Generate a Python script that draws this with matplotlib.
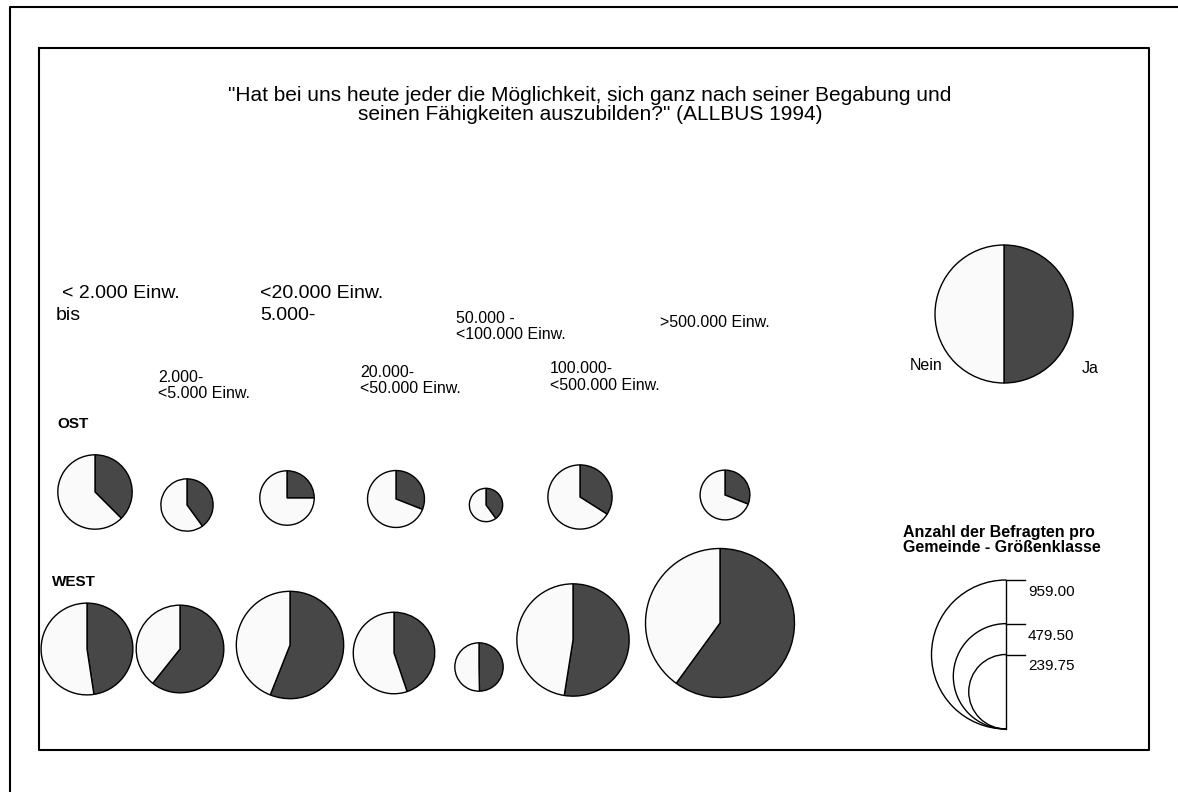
import numpy as np
import matplotlib
matplotlib.use("Agg")
import matplotlib.pyplot as plt
from matplotlib.patches import Arc

plt.rcParams['font.family'] = ['Liberation Sans', 'DejaVu Sans']

# ALLBUS 1994: share answering "Ja" and number of respondents per size class
classes = ["< 2.000", "2.000-<5.000", "5.000-<20.000", "20.000-<50.000",
           "50.000-<100.000", "100.000-<500.000", ">500.000"]
ost_n = [239, 118, 128, 140, 48, 178, 107]
ost_ja = [0.375, 0.40, 0.25, 0.31, 0.40, 0.34, 0.31]
west_n = [364, 332, 498, 287, 101, 545, 959]
west_ja = [0.476, 0.607, 0.56, 0.448, 0.497, 0.525, 0.60]
legend_vals = [959.00, 479.50, 239.75]
legend_labels = ["959.00", "479.50", "239.75"]

DARK = "#474747"
LIGHT = "#fafafa"
R_MAX = 74.5  # radius (px) for the largest count

# layout (pixel coordinates)
ost_cx = [95, 187, 287, 396, 486, 580, 725]
ost_cy = [492, 505, 498, 499, 505, 497, 495]
west_cx = [87, 180, 290, 394, 479, 573, 720]
west_cy = [649, 649, 645, 653, 667, 640, 623]

W, H = 1178, 792
fig = plt.figure(figsize=(W / 100, H / 100), dpi=100)
ax = fig.add_axes([0, 0, 1, 1])


def radius(n):
    return R_MAX * np.sqrt(n / max(legend_vals))


wp = dict(edgecolor="black", linewidth=1.0)
for cx, cy, n, ja in zip(ost_cx, ost_cy, ost_n, ost_ja):
    ax.pie([ja, 1 - ja], colors=[DARK, LIGHT], startangle=270, counterclock=True,
           radius=radius(n), center=(cx, cy), wedgeprops=wp)
for cx, cy, n, ja in zip(west_cx, west_cy, west_n, west_ja):
    ax.pie([ja, 1 - ja], colors=[DARK, LIGHT], startangle=270, counterclock=True,
           radius=radius(n), center=(cx, cy), wedgeprops=wp)

# key pie Ja / Nein
ax.pie([0.5, 0.5], colors=[DARK, LIGHT], startangle=270, counterclock=True,
       radius=69, center=(1004, 314), wedgeprops=wp)
ax.text(910, 370, "Nein", fontsize=11.5, va="baseline")
ax.text(1082, 373, "Ja", fontsize=11.5, va="baseline")

# size legend
base_y = 729
lx = 1006
ax.plot([lx, lx], [base_y, base_y - 2 * radius(legend_vals[0])], color="black", lw=1)
for v, lab in zip(legend_vals, legend_labels):
    r = radius(v)
    ax.add_patch(Arc((lx, base_y - r), 2 * r, 2 * r, theta1=90, theta2=270,
                     color="black", lw=1))
    top = base_y - 2 * r
    ax.plot([lx, lx + 19], [top, top], color="black", lw=1)
    ax.text(lx + 22, top + 16, lab, fontsize=11, va="baseline")
ax.text(903, 537, "Anzahl der Befragten pro", fontsize=11.5, fontweight="bold", va="baseline")
ax.text(903, 552, "Gemeinde - Größenklasse", fontsize=11.5, fontweight="bold", va="baseline")

# title
ax.text(590, 101, "\"Hat bei uns heute jeder die Möglichkeit, sich ganz nach seiner Begabung und",
        fontsize=15, ha="center", va="baseline")
ax.text(590, 120, "seinen Fähigkeiten auszubilden?\" (ALLBUS 1994)",
        fontsize=15, ha="center", va="baseline")

# class labels
big = 14
small = 11.5
ax.text(62, 298, "< 2.000 Einw.", fontsize=big, va="baseline")
ax.text(56, 320, "bis", fontsize=big, va="baseline")
ax.text(260, 298, "<20.000 Einw.", fontsize=big, va="baseline")
ax.text(260, 320, "5.000-", fontsize=big, va="baseline")
ax.text(158, 382, "2.000-", fontsize=small, va="baseline")
ax.text(158, 398, "<5.000 Einw.", fontsize=small, va="baseline")
ax.text(360, 377, "20.000-", fontsize=small, va="baseline")
ax.text(360, 393, "<50.000 Einw.", fontsize=small, va="baseline")
ax.text(456, 323, "50.000 -", fontsize=small, va="baseline")
ax.text(456, 339, "<100.000 Einw.", fontsize=small, va="baseline")
ax.text(550, 373, "100.000-", fontsize=small, va="baseline")
ax.text(550, 390, "<500.000 Einw.", fontsize=small, va="baseline")
ax.text(660, 327, ">500.000 Einw.", fontsize=small, va="baseline")

ax.text(57, 428, "OST", fontsize=11, fontweight="bold", va="baseline")
ax.text(52, 586, "WEST", fontsize=11, fontweight="bold", va="baseline")

# frames
ax.plot([10, 10, W], [H, 7, 7], color="black", lw=1.5)
ax.plot([39, 1149, 1149, 39, 39], [48, 48, 750, 750, 48], color="black", lw=1.5)

ax.set_xlim(0, W)
ax.set_ylim(H, 0)
ax.set_aspect("auto")
ax.axis("off")

fig.savefig("out.png", dpi=100)
